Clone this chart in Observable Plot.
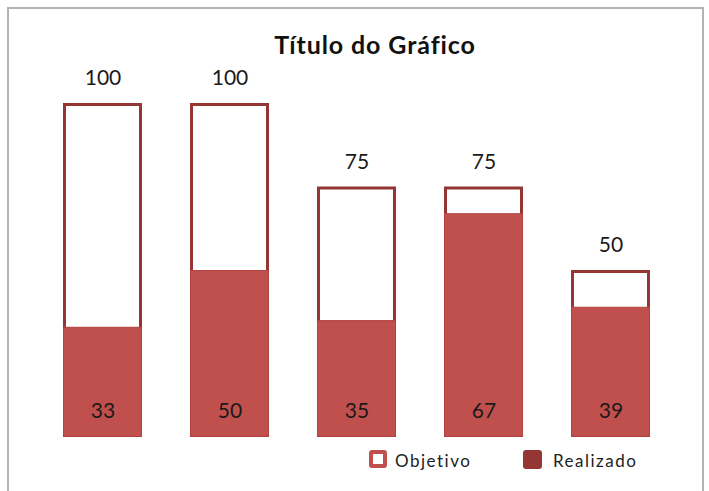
<!DOCTYPE html>
<html><head><meta charset="utf-8">
<script src="https://cdn.jsdelivr.net/npm/d3@7"></script>
<script src="https://cdn.jsdelivr.net/npm/@observablehq/plot@0.6"></script>
<style>
body{margin:0;background:#fff;}
#wrap{position:relative;width:709px;height:491px;overflow:hidden;font-family:Lato,"Open Sans",sans-serif;}
#chart{position:absolute;left:0;top:0;}
#frame{position:absolute;left:7px;top:7px;width:697px;height:520px;border:2px solid #b3b3b3;box-sizing:border-box;pointer-events:none;}
#title{position:absolute;left:375px;top:32px;transform:translateX(-50%);white-space:nowrap;font-weight:bold;font-size:25px;line-height:25px;letter-spacing:0.9px;color:#111;}
.leg{position:absolute;top:452px;font-size:17px;line-height:17px;letter-spacing:1.5px;color:#222;white-space:nowrap;}
.sw{position:absolute;box-sizing:border-box;border-radius:3px;}
</style></head>
<body>
<div id="wrap">
  <div id="chart"></div>
  <div id="frame"></div>
  <div id="title">Título do Gráfico</div>
  <div class="sw" style="left:369px;top:450px;width:18px;height:18px;border:4px solid #C0504D;background:#fff;"></div>
  <div class="leg" style="left:395px;">Objetivo</div>
  <div class="sw" style="left:523px;top:450px;width:19px;height:19px;background:#943634;"></div>
  <div class="leg" style="left:553px;">Realizado</div>
</div>
<script>
const categories = ["1", "2", "3", "4", "5"];
const objetivo = [100, 100, 75, 75, 50];
const realizado = [33, 50, 35, 67, 39];

const data = categories.map((c, i) => ({cat: c, obj: objetivo[i], real: realizado[i]}));

const chart = Plot.plot({
  width: 709,
  height: 491,
  marginTop: 103,
  marginBottom: 54,
  marginLeft: 13,
  marginRight: 9,
  style: {fontFamily: "Lato, 'Open Sans', sans-serif", background: "transparent"},
  x: {domain: categories, padding: 0.381, axis: null},
  y: {domain: [0, 100], axis: null},
  marks: [
    Plot.barY(data, {x: "cat", y: "obj", fill: "white", stroke: "#943634", strokeWidth: 3, inset: 1.5}),
    Plot.barY(data, {x: "cat", y: "real", fill: "#C0504D", stroke: "#B2423F", strokeWidth: 1, inset: 0.5}),
    Plot.text(data, {x: "cat", y: "obj", text: d => String(d.obj), dy: -25, fontSize: 21, fill: "#1a1a1a"}),
    Plot.text(data, {x: "cat", y: () => 0, text: d => String(d.real), dy: -26, fontSize: 21, fill: "#1a1a1a"})
  ]
});
document.getElementById("chart").appendChild(chart);
</script>
</body></html>
